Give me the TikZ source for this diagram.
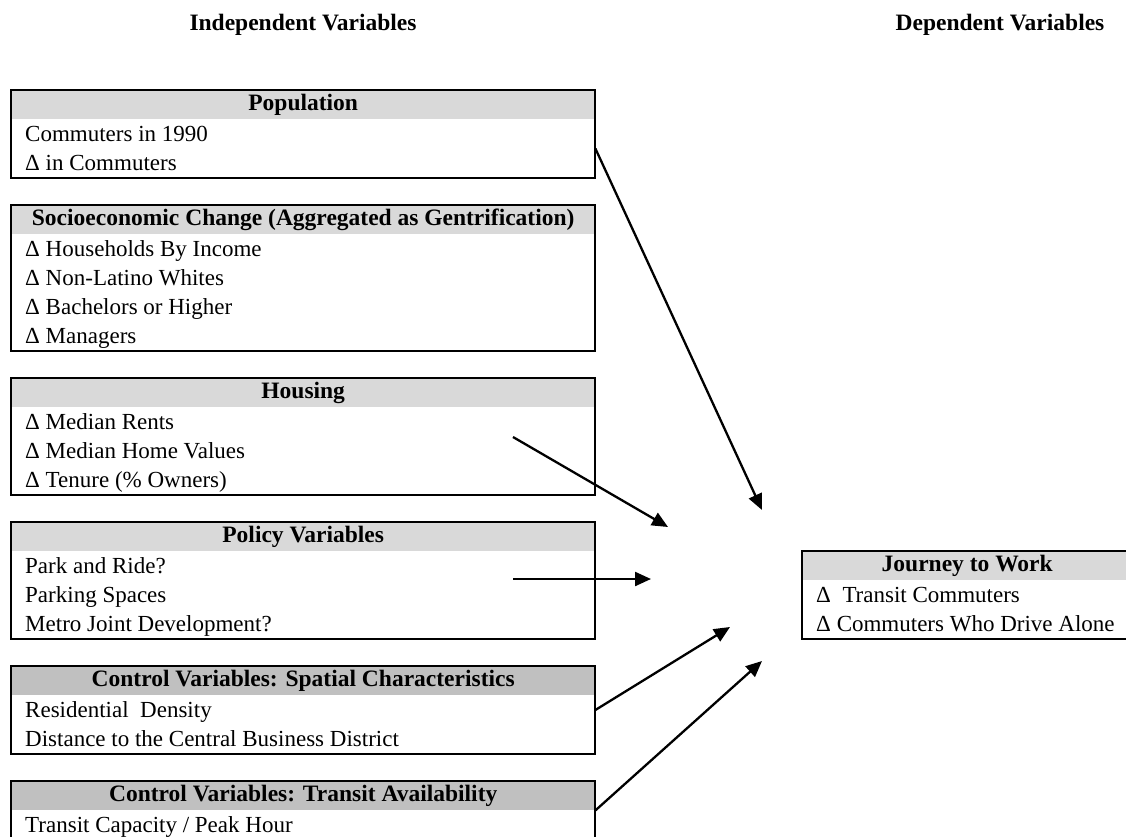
\documentclass[tikz,border=0pt]{standalone}
\usepackage{fontspec}
\setmainfont{Liberation Serif}
\usetikzlibrary{positioning, arrows.meta}

\definecolor{hdgray}{HTML}{D9D9D9}
\definecolor{ctrlgray}{HTML}{C0C0C0}
\newcommand{\hdfont}{\fontsize{23.5}{28}\selectfont\bfseries}
\newcommand{\rwfont}{\fontsize{23}{28}\selectfont}

\begin{document}
\begin{tikzpicture}[
    x=1pt, y=-1pt,
    title/.style={font=\hdfont, inner sep=0pt},
    head/.style={fill=hdgray, minimum width=584pt, minimum height=29pt, inner sep=0pt, anchor=north west, font=\hdfont},
    ctrlhead/.style={head, fill=ctrlgray},
    row/.style={anchor=north west, minimum height=28.75pt, text height=18pt, text depth=3pt, inner sep=0pt, font=\rwfont},
    frame/.style={draw, line width=2pt},
    arrow/.style={-{Triangle[length=16pt, width=14pt]}, line width=2.3pt}
]
\useasboundingbox (0,0) rectangle (1126,837);

\node[title] (indep) at (303,25) {Independent Variables};
\node[title] (dep) at (1000,25) {Dependent Variables};

% population
\node[head] (pop) at (11,90) {Population};
\node[row] (pop1) at ([xshift=14pt]pop.south west) {Commuters in 1990};
\node[row] (pop2) at (pop1.south west) {Δ in Commuters};
\draw[frame] (pop.north west) rectangle (pop.east |- pop2.south);

% socioeconomic change
\node[head] (soc) at (11,205) {Socioeconomic Change (Aggregated as Gentrification)};
\node[row] (soc1) at ([xshift=14pt]soc.south west) {Δ Households By Income};
\node[row] (soc2) at (soc1.south west) {Δ Non-Latino Whites};
\node[row] (soc3) at (soc2.south west) {Δ Bachelors or Higher};
\node[row] (soc4) at (soc3.south west) {Δ Managers};
\draw[frame] (soc.north west) rectangle (soc.east |- soc4.south);

% housing
\node[head] (hous) at (11,378) {Housing};
\node[row] (hous1) at ([xshift=14pt]hous.south west) {Δ Median Rents};
\node[row] (hous2) at (hous1.south west) {Δ Median Home Values};
\node[row] (hous3) at (hous2.south west) {Δ Tenure (\% Owners)};
\draw[frame] (hous.north west) rectangle (hous.east |- hous3.south);

% policy
\node[head] (pol) at (11,522) {Policy Variables};
\node[row] (pol1) at ([xshift=14pt]pol.south west) {Park and Ride?};
\node[row] (pol2) at (pol1.south west) {Parking Spaces};
\node[row] (pol3) at (pol2.south west) {Metro Joint Development?};
\draw[frame] (pol.north west) rectangle (pol.east |- pol3.south);

% controls
\node[ctrlhead] (spat) at (11,666) {Control Variables: Spatial Characteristics};
\node[row] (spat1) at ([xshift=14pt]spat.south west) {Residential\ \ Density};
\node[row] (spat2) at (spat1.south west) {Distance to the Central Business District};
\draw[frame] (spat.north west) rectangle (spat.east |- spat2.south);

\node[ctrlhead] (trans) at (11,781) {Control Variables: Transit Availability};
\node[row] (trans1) at ([xshift=14pt]trans.south west) {Transit Capacity / Peak Hour};
\draw[frame] (trans.north west) rectangle (trans.east |- trans1.south);

% dependent
\node[head, minimum width=330pt] (jtw) at (802,551) {Journey to Work};
\node[row] (jtw1) at ([xshift=14pt]jtw.south west) {Δ\ \ Transit Commuters};
\node[row] (jtw2) at (jtw1.south west) {Δ Commuters Who Drive Alone};
\draw[frame] (jtw.north west) rectangle (jtw.east |- jtw2.south);

% arrow ends
\coordinate (hsrc) at (513,437);
\coordinate (psrc) at (513,579);
\coordinate (tip1) at (762,510);
\coordinate (tip2) at (668,527);
\coordinate (tip3) at (651,579);
\coordinate (tip4) at (730,627);
\coordinate (tip5) at (762,661);

\draw[arrow] (pop.east |- pop1.south) -- (tip1);
\draw[arrow] (hsrc) -- (tip2);
\draw[arrow] (psrc) -- (tip3);
\draw[arrow] (spat.east |- spat1.center) -- (tip4);
\draw[arrow] (trans.south east) -- (tip5);

\end{tikzpicture}
\end{document}
